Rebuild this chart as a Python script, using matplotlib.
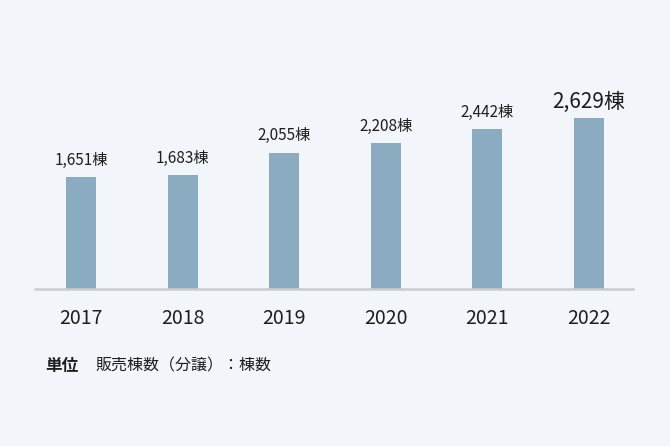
import matplotlib.pyplot as plt

plt.rcParams['font.family'] = ['Noto Sans CJK JP', 'DejaVu Sans']

# données : ventes (棟数) par année
annees = ['2017', '2018', '2019', '2020', '2021', '2022']
valeurs = [1651, 1683, 2055, 2208, 2442, 2629]

fond = '#f2f6fa'
couleur_barre = '#8babc1'
base = -206  # l'axe ne part pas de zéro

fig = plt.figure(figsize=(6.7, 4.46), dpi=100, facecolor=fond)
ax = fig.add_axes([35/670, 1-289/446, 598/670, 229/446])
ax.set_facecolor(fond)

x = range(len(annees))
ax.bar(x, [v - base for v in valeurs], bottom=base, width=0.295, color=couleur_barre, zorder=2)

# étiquettes au-dessus des barres
for i, v in enumerate(valeurs):
	dernier = (i == len(valeurs) - 1)
	ax.annotate('{:,}棟'.format(v), (i, v), xytext=(0, 4 if dernier else 6),
		textcoords='offset points', ha='center', va='bottom',
		fontsize=15 if dernier else 11, color='#1e1e1e')

ax.set_xlim(-0.453, 5.433)
ax.set_ylim(base, 3592)
ax.set_xticks(list(x))
ax.set_xticklabels(annees, fontsize=14, color='#1e1e1e')
ax.tick_params(axis='x', length=0, pad=14)
ax.set_yticks([])
for s in ['top', 'right', 'left']:
	ax.spines[s].set_visible(False)
ax.spines['bottom'].set_color('#cccccc')
ax.spines['bottom'].set_linewidth(1.8)

fig.text(45/670, 1-366/446, '単位', fontsize=12, fontweight='bold', color='#1e1e1e', va='center')
fig.text(95/670, 1-366/446, '販売棟数（分譲）：棟数', fontsize=11.5, color='#1e1e1e', va='center')

fig.savefig('out.png', dpi=100, facecolor=fond)
